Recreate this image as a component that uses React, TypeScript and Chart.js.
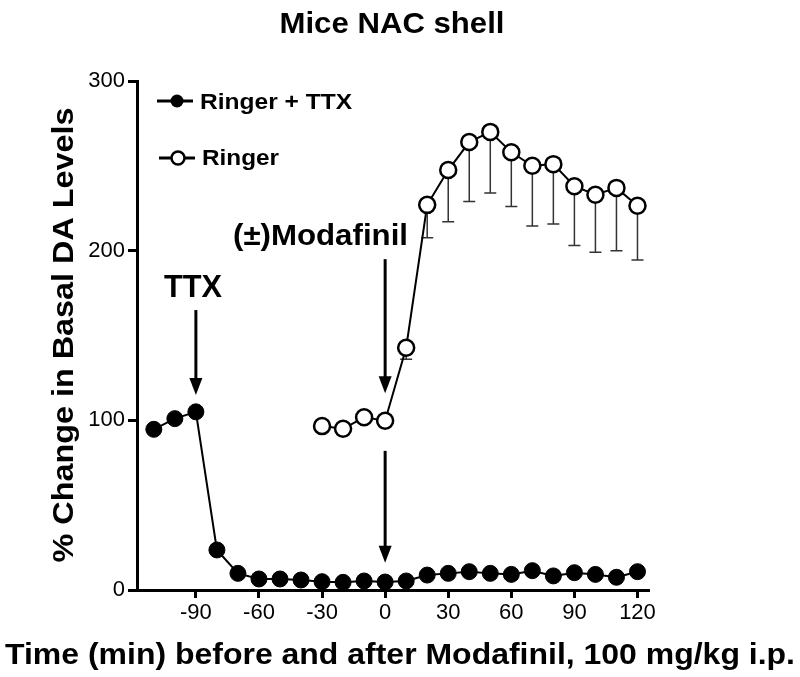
import React, { useEffect, useRef } from "react";
import { Chart, registerables } from "chart.js";

Chart.register(...registerables);

// ---- data ----
const ttxTimes = [-110, -100, -90, -80, -70, -60, -50, -40, -30, -20, -10, 0, 10, 20, 30, 40, 50, 60, 70, 80, 90, 100, 110, 120];
const ttxValues = [94.7, 101, 105, 23.6, 9.8, 6.5, 6.5, 5.9, 4.9, 4.5, 5.3, 4.7, 5.3, 8.8, 9.8, 10.8, 9.8, 9.2, 11.4, 8.3, 10.2, 9.2, 7.5, 10.8];

const ringerTimes = [-30, -20, -10, 0, 10, 20, 30, 40, 50, 60, 70, 80, 90, 100, 110, 120];
const ringerValues = [96.6, 95, 101.8, 99.8, 142.8, 227, 247.5, 264, 270, 258, 250, 251, 238, 233, 237, 226.5];
const ringerSem = [0, 0, 0, 0, 6.8, 19.4, 30.5, 35, 36, 32, 35.5, 35.3, 35, 34, 37, 32];

const xTickValues = [-90, -60, -30, 0, 30, 60, 90, 120];
const yTickValues = [0, 100, 200, 300];

const titleText = "Mice NAC shell";
const xTitleText = "Time (min) before and after Modafinil, 100 mg/kg i.p.";
const yTitleText = "% Change in Basal DA Levels";
const legendLabels = ["Ringer + TTX", "Ringer"];

// arrows in data units: x position, start value, end value
const arrowX = [-90, 0, 0];
const arrowFrom = [165, 195, 82];
const arrowTo = [115, 116, 16];

const FONT = '"Liberation Sans", Arial, sans-serif';

function fitText(
  ctx: CanvasRenderingContext2D,
  text: string,
  x: number,
  y: number,
  size: number,
  width: number,
  align: CanvasTextAlign,
  rotate = false,
  bold = true
) {
  ctx.save();
  ctx.font = `${bold ? "bold " : ""}${size}px ${FONT}`;
  const w = ctx.measureText(text).width;
  const sx = width / w;
  ctx.translate(x, y);
  if (rotate) ctx.rotate(-Math.PI / 2);
  ctx.scale(sx, 1);
  ctx.textAlign = align;
  ctx.textBaseline = "alphabetic";
  ctx.fillStyle = "#000";
  ctx.fillText(text, 0, 0);
  ctx.restore();
}

function drawArrow(ctx: CanvasRenderingContext2D, x: number, y1: number, y2: number) {
  const headLen = 17;
  const headHalf = 6.5;
  ctx.save();
  ctx.strokeStyle = "#000";
  ctx.fillStyle = "#000";
  ctx.lineWidth = 3;
  ctx.beginPath();
  ctx.moveTo(x, y1);
  ctx.lineTo(x, y2 - headLen + 2);
  ctx.stroke();
  ctx.beginPath();
  ctx.moveTo(x - headHalf, y2 - headLen);
  ctx.lineTo(x + headHalf, y2 - headLen);
  ctx.lineTo(x, y2);
  ctx.closePath();
  ctx.fill();
  ctx.restore();
}

const overlayPlugin = {
  id: "overlay",
  beforeDatasetsDraw(chart: any) {
    const ctx: CanvasRenderingContext2D = chart.ctx;
    const xs = chart.scales.x;
    const ys = chart.scales.y;
    ctx.save();
    ctx.strokeStyle = "#333";
    ctx.lineWidth = 1.5;
    ringerTimes.forEach((t, i) => {
      const sem = ringerSem[i];
      if (!sem) return;
      const px = xs.getPixelForValue(t);
      const top = ys.getPixelForValue(ringerValues[i]);
      const bot = ys.getPixelForValue(ringerValues[i] - sem);
      ctx.beginPath();
      ctx.moveTo(px, top);
      ctx.lineTo(px, bot);
      ctx.moveTo(px - 6, bot);
      ctx.lineTo(px + 6, bot);
      ctx.stroke();
    });
    ctx.restore();
  },
  afterDraw(chart: any) {
    const ctx: CanvasRenderingContext2D = chart.ctx;
    const xs = chart.scales.x;
    const ys = chart.scales.y;

    // titles
    fitText(ctx, titleText, 392, 33, 30, 225, "center");
    fitText(ctx, xTitleText, 400, 664, 30, 790, "center");
    fitText(ctx, yTitleText, 73, 335, 30, 455, "center", true);

    // annotations
    fitText(ctx, "TTX", 193, 297, 31, 58, "center");
    fitText(ctx, "(±)Modafinil", 233, 245, 30, 175, "left");
    arrowX.forEach((ax, i) => {
      drawArrow(ctx, xs.getPixelForValue(ax), ys.getPixelForValue(arrowFrom[i]), ys.getPixelForValue(arrowTo[i]));
    });

    // legend
    ctx.save();
    ctx.strokeStyle = "#000";
    ctx.lineWidth = 3;
    ctx.beginPath();
    ctx.moveTo(157, 101);
    ctx.lineTo(193, 101);
    ctx.moveTo(159, 158);
    ctx.lineTo(195, 158);
    ctx.stroke();
    ctx.fillStyle = "#000";
    ctx.beginPath();
    ctx.arc(177, 101, 6.5, 0, Math.PI * 2);
    ctx.fill();
    ctx.fillStyle = "#fff";
    ctx.lineWidth = 2.5;
    ctx.beginPath();
    ctx.arc(178, 158, 6.5, 0, Math.PI * 2);
    ctx.fill();
    ctx.stroke();
    ctx.restore();
    fitText(ctx, legendLabels[0], 200, 109, 22, 152, "left");
    fitText(ctx, legendLabels[1], 202, 165, 22, 77, "left");
  },
};

export default function App() {
  const ref = useRef<HTMLCanvasElement | null>(null);

  useEffect(() => {
    if (!ref.current) return;
    const chart = new Chart(ref.current, {
      type: "line",
      data: {
        datasets: [
          {
            label: legendLabels[0],
            data: ttxTimes.map((t, i) => ({ x: t, y: ttxValues[i] })),
            borderColor: "#000",
            borderWidth: 2,
            pointRadius: 8,
            pointBackgroundColor: "#000",
            pointBorderColor: "#000",
            pointBorderWidth: 1,
            tension: 0,
            clip: false as any,
          },
          {
            label: legendLabels[1],
            data: ringerTimes.map((t, i) => ({ x: t, y: ringerValues[i] })),
            borderColor: "#000",
            borderWidth: 2,
            pointRadius: 8,
            pointBackgroundColor: "#fff",
            pointBorderColor: "#000",
            pointBorderWidth: 2.5,
            tension: 0,
            clip: false as any,
          },
        ],
      },
      options: {
        animation: false,
        responsive: false,
        maintainAspectRatio: false,
        layout: { padding: { top: 81, right: 152, left: 0, bottom: 0 } },
        plugins: {
          legend: { display: false },
          title: { display: false },
          tooltip: { enabled: false },
        },
        scales: {
          x: {
            type: "linear",
            min: -118,
            max: 125,
            afterBuildTicks: (scale: any) => {
              scale.ticks = xTickValues.map((v) => ({ value: v }));
            },
            afterFit: (scale: any) => {
              scale.height = 87;
            },
            border: { display: true, color: "#000", width: 3 },
            grid: {
              display: true,
              drawOnChartArea: false,
              drawTicks: true,
              tickLength: 8,
              tickColor: "#000",
              tickWidth: 3,
              color: "#000",
              lineWidth: 3,
            },
            ticks: {
              color: "#000",
              font: { family: FONT, size: 22 },
              padding: 2,
              maxRotation: 0,
              autoSkip: false,
            },
          },
          y: {
            type: "linear",
            min: 0,
            max: 300,
            afterBuildTicks: (scale: any) => {
              scale.ticks = yTickValues.map((v) => ({ value: v }));
            },
            afterFit: (scale: any) => {
              scale.width = 137;
            },
            border: { display: true, color: "#000", width: 3 },
            grid: {
              display: true,
              drawOnChartArea: false,
              drawTicks: true,
              tickLength: 9,
              tickColor: "#000",
              tickWidth: 3,
              color: "#000",
              lineWidth: 3,
            },
            ticks: {
              color: "#000",
              font: { family: FONT, size: 22 },
              padding: 3,
            },
          },
        },
      },
      plugins: [overlayPlugin],
    });
    return () => chart.destroy();
  }, []);

  return (
    <div style={{ position: "fixed", left: 0, top: 0, width: 800, height: 677, background: "#fff" }}>
      <canvas ref={ref} width={800} height={677} style={{ width: 800, height: 677 }} />
    </div>
  );
}
